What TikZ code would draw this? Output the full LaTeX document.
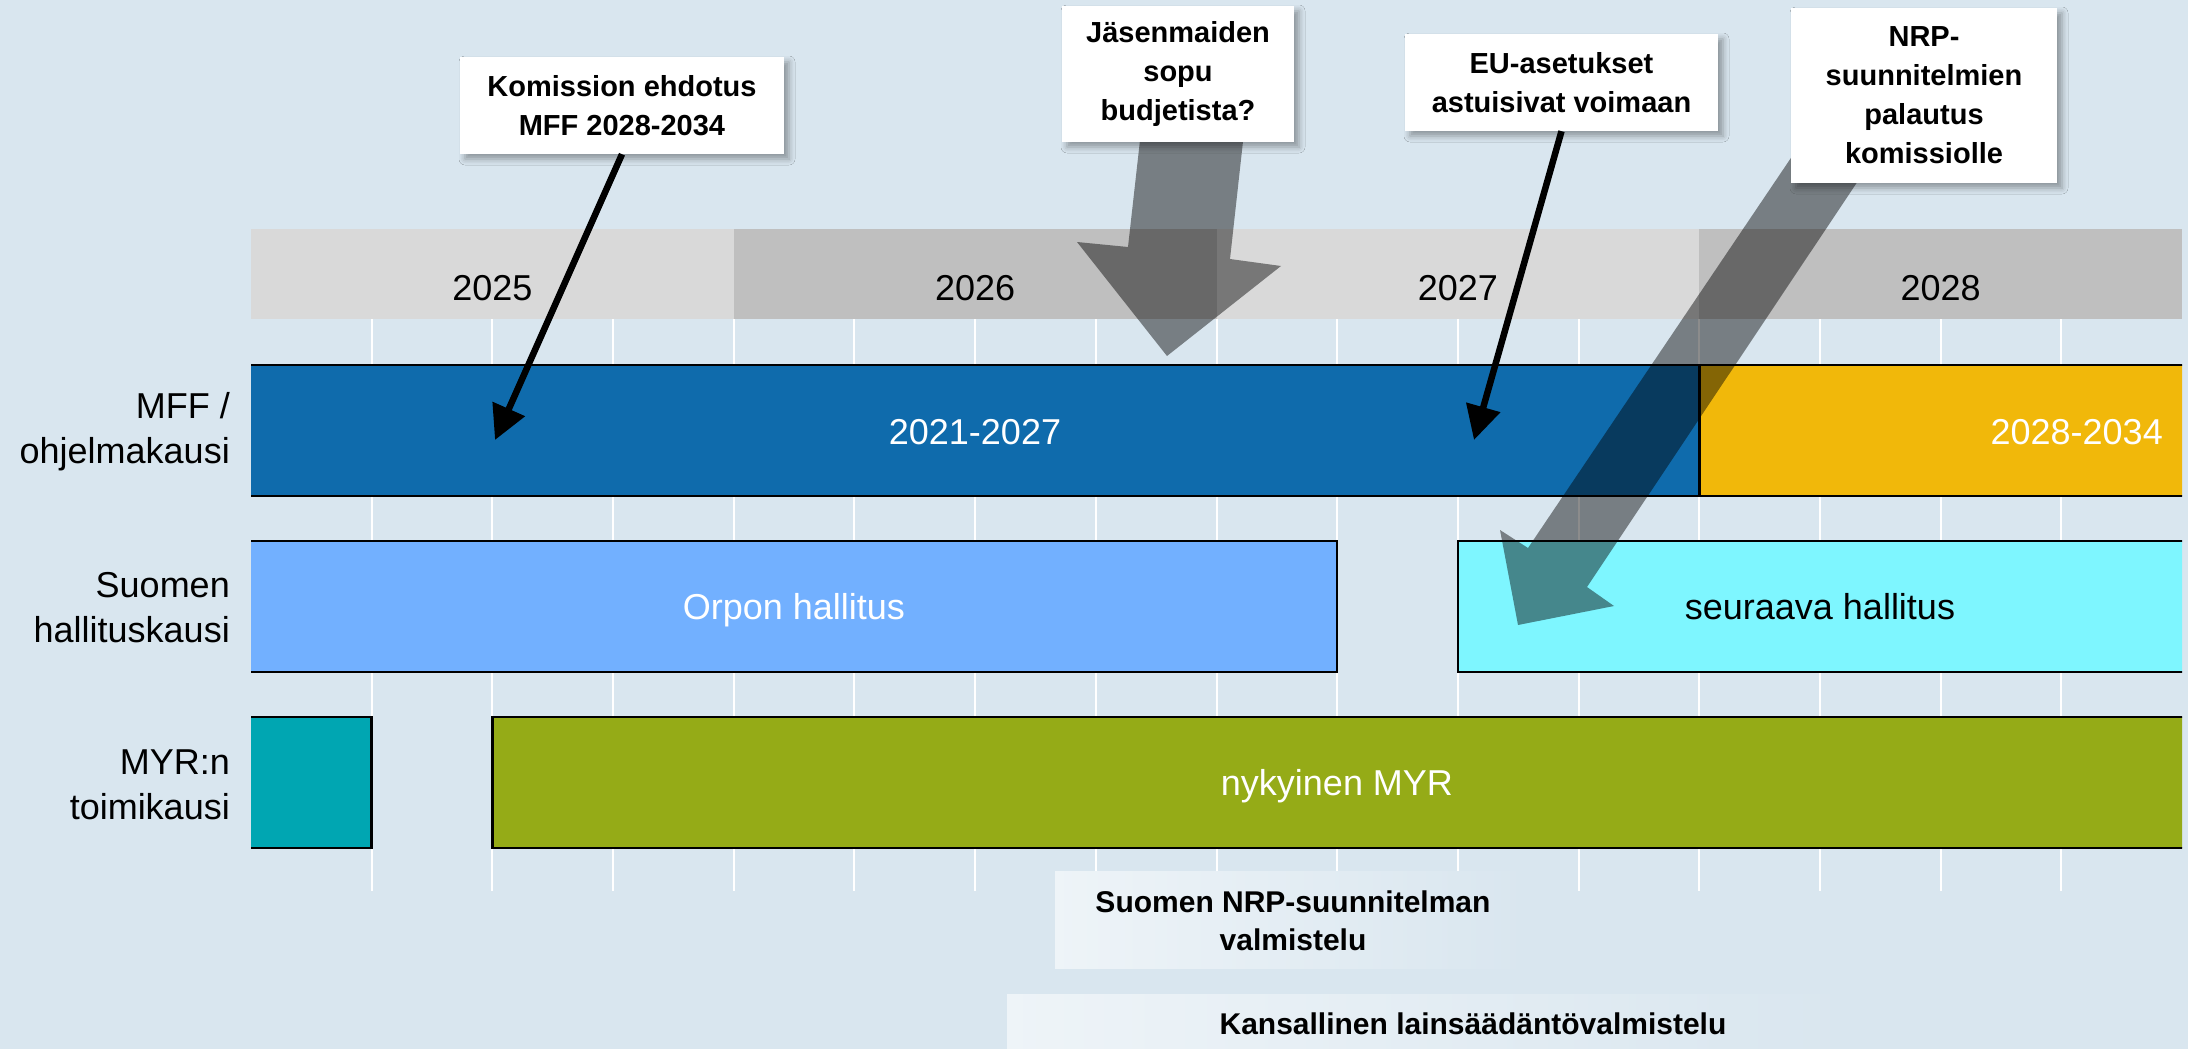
\documentclass[tikz,border=0pt]{standalone}
\usepackage{fontspec}
\setmainfont{Liberation Sans}
\usetikzlibrary{arrows.meta,shadows.blur}
\definecolor{bgc}{HTML}{D9E6EF}
\definecolor{hdrlight}{HTML}{D9D9D9}
\definecolor{hdrdark}{HTML}{BFBFBF}
\definecolor{mffblue}{HTML}{0F6BAC}
\definecolor{mffgold}{HTML}{F1B80A}
\definecolor{orponblue}{HTML}{72B0FF}
\definecolor{seurcyan}{HTML}{7EF6FF}
\definecolor{myrteal}{HTML}{00A6B2}
\definecolor{myrgreen}{HTML}{95AB17}
\tikzset{
  yearlbl/.style={anchor=base, inner sep=0pt, font=\fontsize{36}{44}\selectfont},
  barlbl/.style={anchor=base, inner sep=0pt, font=\fontsize{36}{44}\selectfont, text=white},
  rowlbl/.style={anchor=east, align=right, inner sep=0pt, font=\fontsize{36}{45}\selectfont},
  barline/.style={draw=black, line width=2.5pt},
  gridline/.style={draw=white, line width=2pt},
  callout/.style={fill=white, align=center, inner sep=0pt,
    font=\fontsize{29}{39}\selectfont\bfseries,
    blur shadow={shadow xshift=5pt, shadow yshift=-5pt, shadow blur radius=6pt, shadow opacity=35}},
  fatarrow/.style={fill=black, opacity=0.45},
  blackarrow/.style={draw=black, line width=6.5pt, -{Triangle[length=34pt,width=34pt]}},
  bottomlbl/.style={align=center, inner sep=0pt, font=\fontsize{30}{38}\selectfont\bfseries},
  fadebox/.style={left color=white!55!bgc, middle color=white!96!bgc, right color=bgc}
}
\begin{document}
\begin{tikzpicture}[x=1pt,y=-1pt]
\useasboundingbox (0,0) rectangle (2188,1049);
\fill[bgc] (0,0) rectangle (2188,1049);

% year header
\fill[hdrlight] (251,229) rectangle (733.75,319);
\fill[hdrdark] (733.75,229) rectangle (1216.5,319);
\fill[hdrlight] (1216.5,229) rectangle (1699.25,319);
\fill[hdrdark] (1699.25,229) rectangle (2182,319);
\node[yearlbl] (y2025) at (492.4,300) {2025};
\node[yearlbl] (y2026) at (975.1,300) {2026};
\node[yearlbl] (y2027) at (1457.9,300) {2027};
\node[yearlbl] (y2028) at (1940.6,300) {2028};

% grid lines
\foreach \k in {1,...,15}
  \draw[gridline] ({251+120.6875*\k},319) -- ({251+120.6875*\k},891);

% bars
\begin{scope}
\clip (251,0) rectangle (2182,1049);
\draw[barline, fill=mffblue] (240,365) rectangle (1699.25,496);
\draw[barline, fill=mffgold] (1699.25,365) rectangle (2196,496);
\draw[barline, fill=orponblue] (240,541) rectangle (1337.2,672);
\draw[barline, fill=seurcyan] (1457.9,541) rectangle (2196,672);
\draw[barline, fill=myrteal] (240,717) rectangle (371.7,848);
\draw[barline, fill=myrgreen] (492.4,717) rectangle (2196,848);
\end{scope}

\node[barlbl] (mffcur) at (975,444) {2021-2027};
\node[barlbl, anchor=base east] (mffnext) at (2163,444) {2028-2034};
\node[barlbl] (orpo) at (794,619) {Orpon hallitus};
\node[barlbl, text=black] (seur) at (1820,619) {seuraava hallitus};
\node[barlbl] (myr) at (1337,795) {nykyinen MYR};

% row labels
\node[rowlbl] (r1) at (230,432) {MFF /\\ohjelmakausi};
\node[rowlbl] (r2) at (230,608) {Suomen\\hallituskausi};
\node[rowlbl] (r3) at (230,785) {MYR:n\\toimikausi};

% fat translucent arrows
\fill[fatarrow] (1149,60) -- (1252,60) -- (1230,259) -- (1281,266) -- (1167,356) -- (1077,242) -- (1128,247) -- cycle;
\fill[fatarrow] (1830,100) -- (1912,100) -- (1587,587) -- (1614,606) -- (1518,625) -- (1500,530) -- (1528,548) -- cycle;

% callout boxes
\node[callout, minimum width=324pt, minimum height=97pt] (kom) at (622,105.5) {Komission ehdotus\\MFF 2028-2034};
\node[callout, minimum width=232pt, minimum height=136pt] (jasen) at (1178,74) {Jäsenmaiden\\sopu\\budjetista?};
\node[callout, minimum width=313pt, minimum height=97pt] (eu) at (1561.5,82.5) {EU-asetukset\\astuisivat voimaan};
\node[callout, minimum width=266pt, minimum height=175pt] (nrp) at (1924,95.5) {NRP-\\suunnitelmien\\palautus\\komissiolle};

% black arrows
\coordinate (ktip) at (495,440);
\coordinate (etip) at (1474,440);
\draw[blackarrow] (kom.south) -- (ktip);
\draw[blackarrow] (eu.south) -- (etip);

% bottom labels
\shade[fadebox] (1055,871) rectangle (1527,968);
\node[bottomlbl] (nrpprep) at (1293,921) {Suomen NRP-suunnitelman\\valmistelu};
\shade[fadebox] (1007,994) rectangle (1850,1049);
\node[bottomlbl] (lainprep) at (1473,1024) {Kansallinen lainsäädäntövalmistelu};
\end{tikzpicture}
\end{document}
